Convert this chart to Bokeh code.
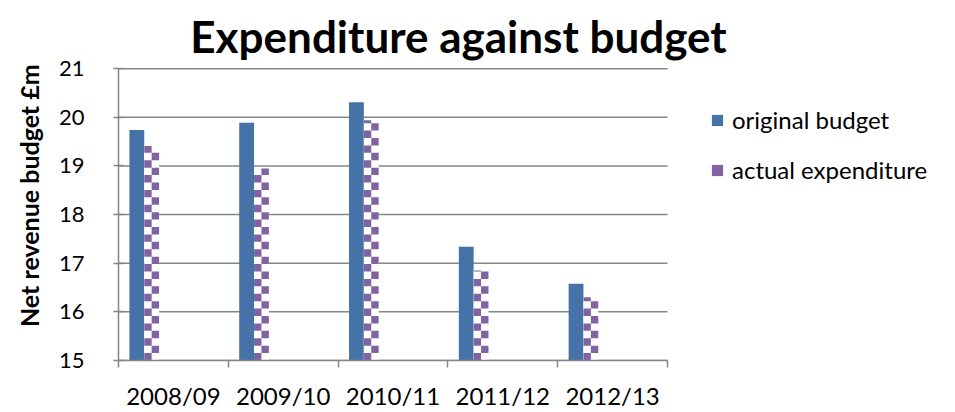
import numpy as np
from bokeh.plotting import figure
from bokeh.models import (ColumnDataSource, FixedTicker, Legend, LegendItem, Label, Range1d)
from bokeh.embed import file_html
from bokeh.resources import INLINE

categories = ["2008/09", "2009/10", "2010/11", "2011/12", "2012/13"]
original_budget = [19.74, 19.89, 20.31, 17.34, 16.58]
actual_expenditure = [19.41, 18.95, 19.94, 16.85, 16.30]
y_ticks = [15, 16, 17, 18, 19, 20, 21]

BLUE = "#4572A7"
PURPLE = "#8064A2"
GRID = "#868686"
FONT = "Lato"

# ---- layout (pixels) ----
W, H = 955, 412
LEFT, BOTTOM = 118, 48
CAT_PX = 109.8            # width of one category in pixels
UNIT_PX = 49.17           # pixels per 1 unit on the value axis
frame_w = W - LEFT
frame_h = H - BOTTOM
n = len(categories)
ymin, ymax = y_ticks[0], y_ticks[-1]

idx = np.arange(n)
BAR_W = 0.135
src = ColumnDataSource(dict(
    xb=idx + 0.167, xa=idx + 0.302,
    ob=original_budget, ae=actual_expenditure,
))

p = figure(width=W, height=H, output_backend="svg", toolbar_location=None,
           x_range=Range1d(0, frame_w / CAT_PX),
           y_range=Range1d(ymin, ymin + frame_h / UNIT_PX),
           min_border_left=LEFT, min_border_right=0, min_border_top=0,
           min_border_bottom=BOTTOM)
p.outline_line_color = None
p.background_fill_color = "white"
p.xgrid.grid_line_color = None
p.ygrid.grid_line_color = None

# horizontal gridlines, limited to the category area
p.segment(x0=[0] * len(y_ticks), x1=[n] * len(y_ticks), y0=y_ticks, y1=y_ticks,
          line_color=GRID, line_width=1.5)

r1 = p.vbar(x="xb", top="ob", bottom=ymin, width=BAR_W, source=src,
            fill_color=BLUE, line_color=None)
p.vbar(x="xa", top="ae", bottom=ymin, width=BAR_W, source=src,
       fill_color="white", line_color=None)

# checkerboard fill of the "actual expenditure" bars
cell = 7.5 / UNIT_PX
L, R, B, T = [], [], [], []
for xc, v in zip(idx + 0.302, actual_expenditure):
    k = 0
    while ymin + k * cell < v:
        col = k % 2
        x0 = xc - BAR_W / 2 + col * BAR_W / 2
        L.append(x0)
        R.append(x0 + BAR_W / 2)
        B.append(ymin + k * cell)
        T.append(min(ymin + (k + 1) * cell, v))
        k += 1
r2 = p.quad(left=L, right=R, bottom=B, top=T, fill_color=PURPLE, line_color=None)

# axes
xa = p.xaxis[0]
xa.bounds = (0, n)
xa.ticker = FixedTicker(ticks=list(idx + 0.5), minor_ticks=list(range(n + 1)))
xa.major_label_overrides = {float(i + 0.5): c for i, c in enumerate(categories)}
xa.major_tick_line_color = None
xa.minor_tick_line_color = GRID
xa.minor_tick_line_width = 1.5
xa.minor_tick_in = 0
xa.minor_tick_out = 7
xa.axis_line_color = GRID
xa.axis_line_width = 1.5
xa.major_label_text_font = FONT
xa.major_label_text_font_size = "24px"
xa.major_label_text_color = "black"
xa.major_label_standoff = 13

ya = p.yaxis[0]
ya.bounds = (ymin, ymax)
ya.ticker = FixedTicker(ticks=y_ticks)
ya.major_tick_line_color = GRID
ya.major_tick_line_width = 1.5
ya.major_tick_in = 5
ya.major_tick_out = 5
ya.minor_tick_line_color = None
ya.axis_line_color = GRID
ya.axis_line_width = 1.5
ya.major_label_text_font = FONT
ya.major_label_text_font_size = "22px"
ya.major_label_text_color = "black"
ya.major_label_standoff = 29
ya.axis_label = "Net revenue budget £m" + "\u00a0" * 5
ya.axis_label_text_font = FONT
ya.axis_label_text_font_style = "bold"
ya.axis_label_text_font_size = "25px"
ya.axis_label_text_color = "black"
ya.axis_label_standoff = 12

legend = Legend(items=[LegendItem(label="original budget", renderers=[r1]),
                       LegendItem(label="actual expenditure", renderers=[r2])],
                location=(592, 176), orientation="vertical",
                glyph_width=14, glyph_height=14, label_standoff=8,
                label_height=26, spacing=21, padding=0, margin=0,
                border_line_color=None, background_fill_alpha=0,
                label_text_font=FONT, label_text_font_size="24px", label_text_color="black")
p.add_layout(legend)

title = Label(x=340, y=frame_h - 39, x_units="screen", y_units="screen",
              text="Expenditure against budget", text_font=FONT, text_font_style="bold",
              text_font_size="44px", text_color="black", text_align="center",
              text_baseline="alphabetic")
p.add_layout(title)

open("out.html", "w").write(file_html(p, INLINE))
